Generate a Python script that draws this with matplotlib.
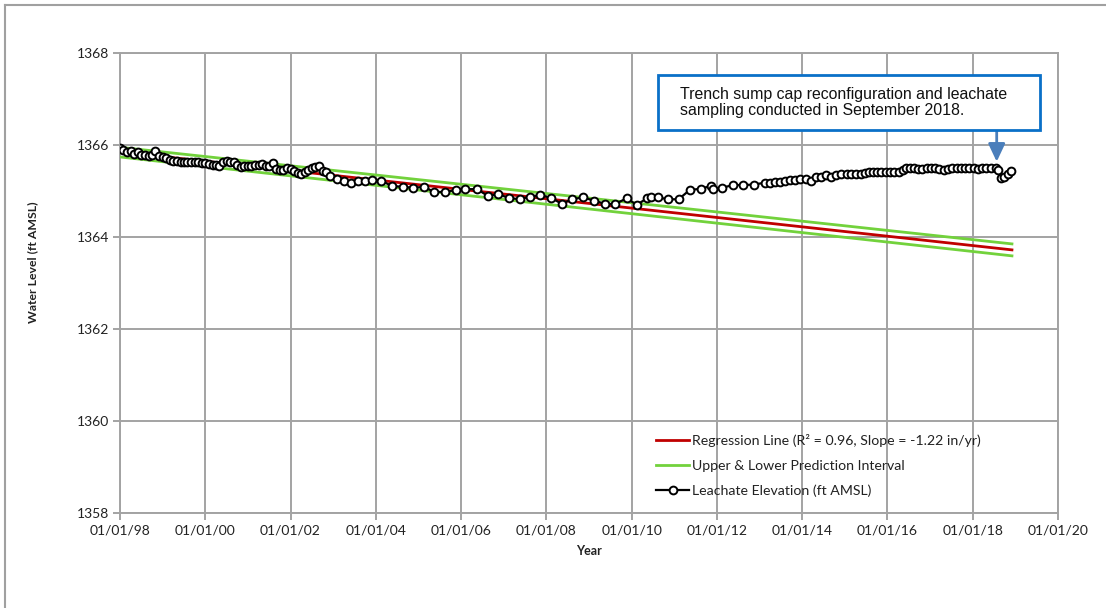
import matplotlib
matplotlib.use("Agg")
import matplotlib.pyplot as plt
from matplotlib.lines import Line2D
from matplotlib.patches import Rectangle

# ---------------- data ----------------
years = [
    1998.00, 1998.08, 1998.17, 1998.25, 1998.33, 1998.42, 1998.50, 1998.58, 1998.67, 1998.75,
    1998.83, 1998.92, 1999.00, 1999.08, 1999.17, 1999.25, 1999.33, 1999.42, 1999.50, 1999.58,
    1999.67, 1999.75, 1999.83, 1999.92, 2000.00, 2000.08, 2000.17, 2000.25, 2000.33, 2000.42,
    2000.50, 2000.58, 2000.67, 2000.75, 2000.83, 2000.92, 2001.00, 2001.08, 2001.17, 2001.25,
    2001.33, 2001.42, 2001.50, 2001.58, 2001.67, 2001.75, 2001.83, 2001.92, 2002.00, 2002.08,
    2002.17, 2002.25, 2002.33, 2002.42, 2002.50, 2002.58, 2002.67, 2002.75, 2002.83, 2002.92,
    2003.08, 2003.25, 2003.42, 2003.58, 2003.75, 2003.92, 2004.13, 2004.38, 2004.63, 2004.88,
    2005.13, 2005.37, 2005.63, 2005.88, 2006.10, 2006.38, 2006.63, 2006.87, 2007.12, 2007.38,
    2007.62, 2007.86, 2008.12, 2008.36, 2008.60, 2008.86, 2009.12, 2009.38, 2009.62, 2009.88,
    2010.12, 2010.36, 2010.45, 2010.62, 2010.86, 2011.10, 2011.36, 2011.62, 2011.86, 2011.90,
    2012.12, 2012.38, 2012.62, 2012.87, 2013.12, 2013.24, 2013.36, 2013.48, 2013.60, 2013.72,
    2013.84, 2013.96, 2014.08, 2014.20, 2014.32, 2014.44, 2014.56, 2014.68, 2014.80, 2014.92,
    2015.04, 2015.14, 2015.26, 2015.38, 2015.48, 2015.56, 2015.66, 2015.76, 2015.86, 2015.96,
    2016.06, 2016.16, 2016.26, 2016.36, 2016.44, 2016.52, 2016.62, 2016.72, 2016.82, 2016.92,
    2017.02, 2017.12, 2017.22, 2017.32, 2017.42, 2017.52, 2017.62, 2017.72, 2017.82, 2017.92,
    2018.02, 2018.12, 2018.22, 2018.32, 2018.44, 2018.54, 2018.60, 2018.66, 2018.74, 2018.82,
    2018.90,
]
elevation = [
    1365.93, 1365.90, 1365.85, 1365.88, 1365.80, 1365.84, 1365.78, 1365.78, 1365.77, 1365.79,
    1365.86, 1365.76, 1365.75, 1365.72, 1365.68, 1365.65, 1365.65, 1365.64, 1365.64, 1365.64,
    1365.64, 1365.64, 1365.63, 1365.61, 1365.60, 1365.58, 1365.57, 1365.56, 1365.54, 1365.63,
    1365.65, 1365.64, 1365.62, 1365.57, 1365.52, 1365.54, 1365.55, 1365.54, 1365.56, 1365.57,
    1365.58, 1365.55, 1365.54, 1365.60, 1365.47, 1365.46, 1365.46, 1365.49, 1365.48, 1365.44,
    1365.40, 1365.38, 1365.41, 1365.46, 1365.50, 1365.52, 1365.55, 1365.44, 1365.42, 1365.32,
    1365.26, 1365.22, 1365.18, 1365.22, 1365.22, 1365.25, 1365.22, 1365.11, 1365.09, 1365.07,
    1365.09, 1364.98, 1364.98, 1365.02, 1365.04, 1365.04, 1364.89, 1364.93, 1364.85, 1364.82,
    1364.88, 1364.91, 1364.85, 1364.72, 1364.82, 1364.86, 1364.79, 1364.72, 1364.72, 1364.84,
    1364.70, 1364.84, 1364.88, 1364.86, 1364.82, 1364.82, 1365.02, 1365.05, 1365.11, 1365.04,
    1365.07, 1365.13, 1365.13, 1365.14, 1365.18, 1365.18, 1365.19, 1365.20, 1365.22, 1365.24,
    1365.25, 1365.27, 1365.27, 1365.22, 1365.31, 1365.30, 1365.35, 1365.30, 1365.35, 1365.36,
    1365.37, 1365.38, 1365.38, 1365.37, 1365.40, 1365.42, 1365.42, 1365.42, 1365.42, 1365.42,
    1365.41, 1365.41, 1365.42, 1365.46, 1365.51, 1365.50, 1365.49, 1365.48, 1365.48, 1365.49,
    1365.49, 1365.49, 1365.48, 1365.45, 1365.48, 1365.49, 1365.49, 1365.49, 1365.49, 1365.49,
    1365.49, 1365.48, 1365.49, 1365.50, 1365.50, 1365.50, 1365.45, 1365.28, 1365.31, 1365.38,
    1365.44,
]

line_years = [1998.0, 2018.92]
regression = [1365.85, 1363.72]
upper_pi = [1365.95, 1363.85]
lower_pi = [1365.74, 1363.59]

xtick_years = [1998, 2000, 2002, 2004, 2006, 2008, 2010, 2012, 2014, 2016, 2018, 2020]
xtick_labels = ["01/01/98", "01/01/00", "01/01/02", "01/01/04", "01/01/06", "01/01/08",
                "01/01/10", "01/01/12", "01/01/14", "01/01/16", "01/01/18", "01/01/20"]
yticks = [1358, 1360, 1362, 1364, 1366, 1368]

legend_labels = ["Regression Line (R\u00b2 = 0.96, Slope = -1.22 in/yr)",
                 "Upper & Lower Prediction Interval",
                 "Leachate Elevation (ft AMSL)"]
note_lines = ["Trench sump cap reconfiguration and leachate",
              "sampling conducted in September 2018."]

# ---------------- figure ----------------
W, H = 1106, 608
fig = plt.figure(figsize=(W / 100, H / 100), dpi=100)
fig.patch.set_facecolor("white")

def fx(px):
    return px / W

def fy(py):
    return 1 - py / H

ax_l, ax_r, ax_t, ax_b = 120, 1058, 53, 513
ax = fig.add_axes([fx(ax_l), fy(ax_b), fx(ax_r - ax_l), (ax_b - ax_t) / H])

grid_c = "#a3a3a3"
red = "#c00000"
green = "#72d23c"

ax.plot(line_years, upper_pi, color=green, lw=2.0, zorder=3)
ax.plot(line_years, lower_pi, color=green, lw=2.0, zorder=3)
ax.plot(line_years, regression, color=red, lw=2.0, zorder=3)
ax.plot(years, elevation, color="black", lw=1.6, marker="o", markersize=5.6,
        markerfacecolor="white", markeredgecolor="black", markeredgewidth=1.4, zorder=4)

ax.set_xlim(1998, 2020)
ax.set_ylim(1358, 1368)
ax.set_xticks(xtick_years)
ax.set_xticklabels(xtick_labels)
ax.set_yticks(yticks)
ax.grid(True, color=grid_c, lw=1.4)
ax.set_axisbelow(True)
for s in ax.spines.values():
    s.set_color(grid_c)
    s.set_linewidth(1.4)
ax.tick_params(axis="both", direction="out", length=5, width=1.4, color=grid_c,
               labelsize=10, labelcolor="#222222", pad=3)
for lab in ax.get_xticklabels() + ax.get_yticklabels():
    lab.set_family("Lato")

fig.text(fx(33), fy(262), "Water Level (ft AMSL)", rotation=90, ha="center", va="center",
         fontsize=8.8, fontweight="bold", family="Lato", color="#222222")
fig.text(fx(589), fy(551), "Year", ha="center", va="center",
         fontsize=9, fontweight="bold", family="Lato", color="#222222")

handles = [
    Line2D([], [], color=red, lw=2.0),
    Line2D([], [], color=green, lw=2.0),
    Line2D([], [], color="black", lw=1.6, marker="o", markersize=5.6,
           markerfacecolor="white", markeredgecolor="black", markeredgewidth=1.4),
]
leg = ax.legend(handles, legend_labels, loc="upper left",
                bbox_to_anchor=(fx(656), fy(434)), bbox_transform=fig.transFigure,
                frameon=False, borderpad=0, borderaxespad=0, handlelength=2.35,
                handletextpad=0.18, labelspacing=0.9,
                prop={"family": "Lato", "size": 10.2})
for t in leg.get_texts():
    t.set_color("#222222")

# annotation box
box = Rectangle((fx(658), fy(130)), fx(1040 - 658), (130 - 75) / H, transform=fig.transFigure,
                facecolor="white", edgecolor="#0a70c8", lw=2.0, zorder=10)
fig.add_artist(box)
fig.text(fx(680), fy(99.3), note_lines[0], ha="left", va="baseline", fontsize=11.4,
         family="Liberation Sans", color="#111111", zorder=11)
fig.text(fx(680), fy(115), note_lines[1], ha="left", va="baseline", fontsize=11.4,
         family="Liberation Sans", color="#111111", zorder=11)
ax.annotate("", xy=(fx(996.7), fy(161.7)), xycoords="figure fraction",
            xytext=(fx(996.7), fy(131)), textcoords="figure fraction",
            arrowprops=dict(arrowstyle="-|>,head_length=1.0,head_width=0.47",
                            mutation_scale=10.8, color="#4a7ebb", lw=2.0,
                            shrinkA=0, shrinkB=0), zorder=9)

# outer frame (top and left edges visible)
fig.add_artist(Line2D([fx(4.5), fx(4.5)], [0, fy(4.5)], transform=fig.transFigure,
                      color="#a0a0a0", lw=1.5))
fig.add_artist(Line2D([fx(4.5), 1], [fy(4.5), fy(4.5)], transform=fig.transFigure,
                      color="#a0a0a0", lw=1.5))

fig.savefig("out.png", dpi=100, facecolor="white")
